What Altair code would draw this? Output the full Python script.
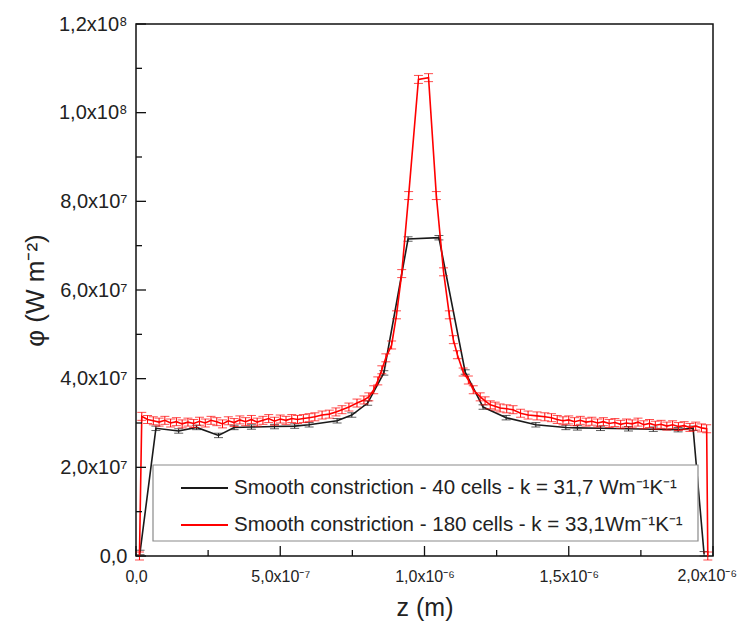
import altair as alt
import pandas as pd

# ---------------- data (z in 1e-6 m, phi in 1e7 W m^-2) ----------------
black_z = [0.014, 0.069, 0.148, 0.21, 0.286, 0.34, 0.40, 0.48, 0.55, 0.60,
           0.697, 0.748, 0.803, 0.859, 0.943, 1.05, 1.141, 1.203, 1.283, 1.386,
           1.49, 1.53, 1.61, 1.707, 1.793, 1.879, 1.931, 1.969]
black_phi = [0.08, 2.88, 2.82, 2.90, 2.72, 2.90, 2.91, 2.92, 2.93, 2.96,
             3.05, 3.18, 3.45, 4.13, 7.15, 7.18, 4.15, 3.36, 3.12, 2.96,
             2.90, 2.89, 2.88, 2.87, 2.86, 2.85, 2.88, 0.05]

red_z = [0.012, 0.02, 0.04, 0.06, 0.08, 0.10, 0.12, 0.14, 0.16, 0.18,
         0.20, 0.22, 0.24, 0.26, 0.28, 0.30, 0.32, 0.34, 0.36, 0.38,
         0.40, 0.42, 0.44, 0.46, 0.48, 0.50, 0.52, 0.54, 0.56, 0.58,
         0.60, 0.62, 0.645, 0.67, 0.693, 0.714, 0.738, 0.766, 0.79, 0.807,
         0.824, 0.838, 0.852, 0.866, 0.886, 0.903, 0.921, 0.945, 0.979, 1.014,
         1.041, 1.066, 1.086, 1.10, 1.114, 1.134, 1.152, 1.169, 1.193, 1.21,
         1.228, 1.245, 1.262, 1.285, 1.307, 1.333, 1.359, 1.39, 1.417, 1.44,
         1.46, 1.48, 1.50, 1.52, 1.54, 1.56, 1.58, 1.60, 1.62, 1.64,
         1.66, 1.68, 1.70, 1.72, 1.74, 1.76, 1.78, 1.80, 1.82, 1.84,
         1.86, 1.88, 1.90, 1.92, 1.94, 1.96, 1.978, 1.982]
red_phi = [0.0, 3.15, 3.08, 3.05, 3.02, 3.06, 3.00, 3.03, 2.98, 3.02,
           2.99, 3.04, 3.00, 3.06, 3.03, 2.98, 3.05, 3.01, 3.07, 3.03,
           3.08, 3.02, 3.06, 3.10, 3.04, 3.09, 3.06, 3.10, 3.08, 3.10,
           3.12, 3.14, 3.18, 3.20, 3.25, 3.30, 3.36, 3.45, 3.52, 3.59,
           3.75, 3.95, 4.20, 4.47, 4.76, 5.44, 6.37, 8.13, 10.75, 10.79,
           8.13, 6.41, 5.44, 4.88, 4.54, 4.15, 3.97, 3.75, 3.59, 3.50,
           3.41, 3.38, 3.34, 3.32, 3.30, 3.22, 3.18, 3.16, 3.14, 3.12,
           3.08, 3.05, 3.07, 3.03, 3.06, 3.02, 3.04, 3.00, 3.03, 2.99,
           3.01, 2.97, 3.00, 2.98, 3.02, 2.96, 2.99, 2.95, 2.97, 2.93,
           2.96, 2.92, 2.94, 2.90, 2.93, 2.89, 2.87, 0.0]

black_err = 0.05   # 1e7
red_err = 0.09     # 1e7

series_names = ["Smooth constriction - 40 cells - k = 31,7 Wm\u207b\u00b9K\u207b\u00b9",
                "Smooth constriction - 180 cells - k = 33,1Wm\u207b\u00b9K\u207b\u00b9"]
series_colors = ["#1a1a1a", "#ff0000"]

x_ticks = [0.0, 5e-7, 1e-6, 1.5e-6, 2e-6]
x_tick_labels = ["0,0", "5,0x10\u207b\u2077", "1,0x10\u207b\u2076", "1,5x10\u207b\u2076", "2,0x10\u207b\u2076"]
x_minor = [2.5e-7, 7.5e-7, 1.25e-6, 1.75e-6]
y_ticks = [0.0, 2e7, 4e7, 6e7, 8e7, 1e8, 1.2e8]
y_tick_labels = ["0,0", "2,0x10\u2077", "4,0x10\u2077", "6,0x10\u2077", "8,0x10\u2077", "1,0x10\u2078", "1,2x10\u2078"]
y_minor = [1e7, 3e7, 5e7, 7e7, 9e7, 1.1e8]

x_title = "z (m)"
y_title = "\u03c6 (W m\u207b\u00b2)"

# ---------------- styling ----------------
W, H = 577, 532
FONT = "Liberation Sans, Arial, sans-serif"
TXT = "#222222"
XLAB_SIZE = 16
XLAB_PAD = 12


def make_df(zs, ps, err, name):
    return pd.DataFrame({
        "z": [v * 1e-6 for v in zs],
        "phi": [v * 1e7 for v in ps],
        "lo": [(v - err) * 1e7 for v in ps],
        "hi": [(v + err) * 1e7 for v in ps],
        "series": name,
    })


def label_expr(vals, labels):
    expr = "''"
    for v, lab in reversed(list(zip(vals, labels))):
        tol = abs(v) * 1e-6 + 1e-20
        expr = f"abs(datum.value - ({v!r})) < {tol!r} ? '{lab}' : ({expr})"
    return expr


xs = alt.Scale(domain=[0, 2e-6], nice=False, zero=False)
ys = alt.Scale(domain=[0, 1.2e8], nice=False, zero=False)

# the last x label is drawn separately (right-aligned) so it stays inside the page
x_axis = alt.Axis(values=x_ticks, labelExpr=label_expr(x_ticks[:-1], x_tick_labels[:-1]),
                  ticks=False, domain=False, grid=False, labelFont=FONT,
                  labelFontSize=XLAB_SIZE, labelColor=TXT, labelPadding=XLAB_PAD, labelFlush=False,
                  labelOverlap=False,
                  title=x_title, titleFont=FONT, titleFontSize=25, titleFontWeight="normal",
                  titleColor=TXT, titlePadding=11)
y_axis = alt.Axis(values=y_ticks, labelExpr=label_expr(y_ticks, y_tick_labels),
                  ticks=False, domain=False, grid=False, labelFont=FONT,
                  labelFontSize=20, labelColor=TXT, labelPadding=9, labelFlush=False,
                  labelOverlap=False,
                  title=y_title, titleFont=FONT, titleFontSize=26, titleFontWeight="normal",
                  titleColor=TXT, titlePadding=10)


def X(field):
    return alt.X(field, scale=xs, axis=x_axis)


def Y(field):
    return alt.Y(field, scale=ys, axis=y_axis)


layers = []
for i, (zs, ps, err) in enumerate([(black_z, black_phi, black_err), (red_z, red_phi, red_err)]):
    df = make_df(zs, ps, err, series_names[i])
    caps = pd.concat([df.assign(cap=df["lo"]), df.assign(cap=df["hi"])])
    col = series_colors[i]
    line = alt.Chart(df).mark_line(color=col, strokeWidth=1.6).encode(
        x=X("z:Q"), y=Y("phi:Q"), order="z:Q")
    bars = alt.Chart(df).mark_rule(color=col, strokeWidth=1).encode(
        x=X("z:Q"), y=Y("lo:Q"), y2="hi:Q")
    capm = alt.Chart(caps).mark_tick(color=col, orient="horizontal", size=9, thickness=1).encode(
        x=X("z:Q"), y=Y("cap:Q"))
    layers += [bars, capm, line]

# inward ticks
tick_sets = [(y_ticks, 10, "y"), (y_minor, 6, "y"), (x_ticks, 10, "x"), (x_minor, 6, "x")]
for vals, ln, ax in tick_sets:
    tdf = pd.DataFrame({"v": vals})
    if ax == "y":
        t = alt.Chart(tdf).mark_rule(color="#111111", strokeWidth=1.3).encode(
            y=Y("v:Q"), x=alt.value(0), x2=alt.value(ln))
    else:
        t = alt.Chart(tdf).mark_rule(color="#111111", strokeWidth=1.3).encode(
            x=X("v:Q"), y=alt.value(H), y2=alt.value(H - ln))
    layers.append(t)

# last x tick label
last_df = pd.DataFrame({"v": [x_ticks[-1]], "label": [x_tick_labels[-1]]})
layers.append(alt.Chart(last_df).mark_text(align="right", baseline="top", font=FONT,
                                           fontSize=XLAB_SIZE, color=TXT, dx=24).encode(
    x=X("v:Q"), y=alt.value(H + XLAB_PAD), text="label:N"))

# legend box
box = alt.Chart(pd.DataFrame({"k": [0]})).mark_rect(
    fill="white", stroke="#8a8a8a", strokeWidth=1.2).encode(
    x=alt.value(17), x2=alt.value(562), y=alt.value(441), y2=alt.value(517))
layers.append(box)
for i, name in enumerate(series_names):
    ry = 464 + 37 * i
    ldf = pd.DataFrame({"label": [name]})
    layers.append(alt.Chart(ldf).mark_rule(color=series_colors[i], strokeWidth=1.8).encode(
        x=alt.value(45), x2=alt.value(92), y=alt.value(ry)))
    layers.append(alt.Chart(ldf).mark_text(align="left", baseline="middle", font=FONT,
                                           fontSize=20.5, color=TXT).encode(
        x=alt.value(98), y=alt.value(ry), text="label:N"))

chart = alt.layer(*layers).properties(
    width=W, height=H,
    autosize=alt.AutoSizeParams(type="none"),
    padding={"left": 128, "top": 16, "right": 25, "bottom": 75},
).configure_view(stroke="#111111", strokeWidth=1.5)

chart.save("out.html", embed_options={"renderer": "svg", "actions": False})
